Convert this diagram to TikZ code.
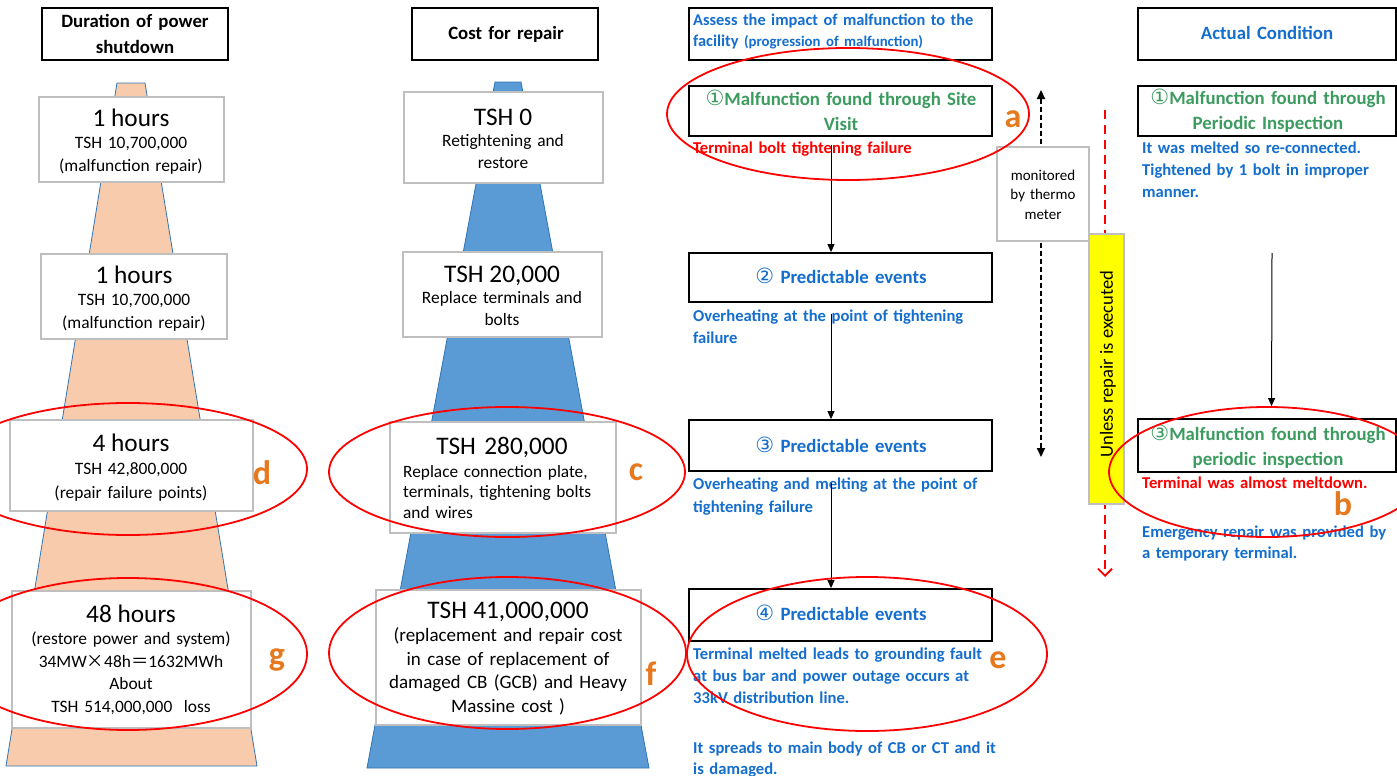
\documentclass[tikz,border=0pt]{standalone}
\usepackage{fontspec}
\setmainfont{Carlito}
\newfontfamily\circfont[BoldFont=DejaVu Sans]{DejaVu Sans}
\newfontfamily\cjkfont{Noto Sans CJK JP}
\usetikzlibrary{shapes.geometric,arrows.meta}

\definecolor{txtblue}{RGB}{20,110,205}
\definecolor{txtgreen}{RGB}{60,155,95}
\definecolor{txtred}{RGB}{255,0,0}
\definecolor{lblorange}{RGB}{230,120,30}
\definecolor{peach}{RGB}{248,203,173}
\definecolor{conefill}{RGB}{91,155,213}
\definecolor{coneedge}{RGB}{46,117,182}
\definecolor{boxgray}{RGB}{191,191,191}
\definecolor{marker}{RGB}{255,255,0}

\newcommand{\fsz}[2]{\fontsize{#1}{#2}\selectfont}
\newcommand{\circnum}[1]{{\circfont\fsz{21}{25}#1}}
\newcommand{\bigsz}{\fsz{25.3}{23}}

\tikzset{
  graybox/.style={draw=boxgray, line width=1.1pt, fill=white, inner sep=0pt},
  blackbox/.style={draw=black, line width=1.8pt, fill=white, inner sep=0pt},
  boxtext/.style={anchor=base, inner sep=0pt, align=center, text width=#1},
  leftpara/.style={anchor=base west, inner sep=0pt, align=left, text width=#1},
  bodyfont/.style={font=\bfseries\fsz{16.6}{22}},
  headfont/.style={font=\bfseries\fsz{18.8}{25}},
  cellfont/.style={font=\fsz{17.4}{22.5}},
  ring/.style={ellipse, draw=red, line width=1.8pt, inner sep=0pt},
  tag/.style={anchor=base, inner sep=0pt, text=lblorange, font=\bfseries\fsz{34}{34}},
  flow/.style={draw=black, line width=1pt, -{Triangle[length=8pt,width=7pt]}},
}

\begin{document}
\begin{tikzpicture}[x=1pt,y=-1pt]
\useasboundingbox (0,0) rectangle (1397,776);
\fill[white] (0,0) rectangle (1397,776);

% ---- the two cones behind the value boxes
\draw[fill=peach, draw=coneedge, line width=0.8pt]
  (117,83) -- (145,83) -- (257,766) -- (6,766) -- cycle;
\draw[fill=conefill, draw=coneedge, line width=0.8pt]
  (495,82) -- (521,82) -- (649,768) -- (367,768) -- cycle;

% ---- column 1: duration of power shutdown
\node[blackbox, minimum width=186pt, minimum height=52pt] (h1) at (135,34) {};
\node[boxtext=184pt, headfont] (h1t) at (135,28) {Duration of power\\shutdown};

\node[graybox, minimum width=185pt, minimum height=85pt] (d1) at (131.5,139.5) {};
\node[boxtext=182pt, cellfont] (d1t) at (131,126)
  {{\bigsz 1 hours}\\TSH 10,700,000\\(malfunction repair)};

\node[graybox, minimum width=186pt, minimum height=85pt] (d2) at (134,296.5) {};
\node[boxtext=182pt, cellfont] (d2t) at (134,283)
  {{\bigsz 1 hours}\\TSH 10,700,000\\(malfunction repair)};

\node[graybox, minimum width=243pt, minimum height=91pt] (d3) at (131.5,465.5) {};
\node[boxtext=236pt, font=\fsz{17.4}{23.5}] (d3t) at (131,451)
  {{\bigsz 4 hours}\\TSH 42,800,000\\(repair failure points)};

\node[graybox, minimum width=239pt, minimum height=137pt] (d4) at (131.5,659.5) {};
\node[boxtext=236pt, cellfont] (d4t) at (131,622)
  {{\bigsz 48 hours}\\(restore power and system)\\
   34MW{\cjkfont ×}48h{\cjkfont ＝}1632MWh\\About\\TSH 514,000,000\ \ loss};

% ---- column 2: cost for repair
\node[blackbox, minimum width=186pt, minimum height=52pt] (h2) at (505,34) {};
\node[boxtext=184pt, headfont] (h2t) at (506,40) {Cost for repair};

\node[graybox, minimum width=199pt, minimum height=91pt] (c1) at (503.5,137.5) {};
\node[boxtext=196pt, font=\fsz{17.4}{21.5}] (c1t) at (503,125)
  {{\bigsz TSH 0}\\Retightening and\\restore};

\node[graybox, minimum width=199pt, minimum height=85pt] (c2) at (502.5,294.5) {};
\node[boxtext=196pt, font=\fsz{17.4}{21.5}] (c2t) at (502,282)
  {{\bigsz TSH 20,000}\\Replace terminals and\\bolts};

\node[graybox, minimum width=226pt, minimum height=111pt] (c3) at (503,477.5) {};
\node[boxtext=210pt, font=\bigsz] (c3t) at (502,454) {TSH 280,000};
\node[leftpara=210pt, font=\fsz{17.3}{20.5}] (c3b) at (403,477)
  {Replace connection plate,\\terminals, tightening bolts\\and wires};

\node[graybox, minimum width=265pt, minimum height=135pt] (c4) at (508.5,657.5) {};
\node[boxtext=262pt, font=\fsz{19}{23.5}] (c4t) at (508,618)
  {{\bigsz TSH 41,000,000}\\(replacement and repair cost\\in case of replacement of\\
   damaged CB (GCB) and Heavy\\Massine cost )};

% ---- column 3: progression of malfunction
\node[blackbox, minimum width=303pt, minimum height=52pt] (p0) at (840.5,34) {};
\node[leftpara=298pt, text=txtblue, font=\bfseries\fsz{16.4}{21}] (p0t) at (693,26)
  {Assess the impact of malfunction to the\\facility {\fsz{14.8}{21}(progression of malfunction)}};

\node[blackbox, minimum width=303pt, minimum height=50pt] (p1) at (840.5,111) {};
\node[boxtext=300pt, text=txtgreen, headfont] (p1t) at (841,105)
  {\circnum{①}Malfunction found through Site\\Visit};
\node[leftpara=320pt, text=txtred, bodyfont] (p1n) at (693,153)
  {Terminal bolt tightening failure};

\node[blackbox, minimum width=303pt, minimum height=49pt] (p2) at (840.5,277.5) {};
\node[boxtext=300pt, text=txtblue, headfont] (p2t) at (841,283)
  {\circnum{②} Predictable events};
\node[leftpara=320pt, text=txtblue, bodyfont] (p2n) at (693,321)
  {Overheating at the point of tightening\\failure};

\node[blackbox, minimum width=303pt, minimum height=51pt] (p3) at (840.5,445.5) {};
\node[boxtext=300pt, text=txtblue, headfont] (p3t) at (841,452)
  {\circnum{③} Predictable events};
\node[leftpara=320pt, text=txtblue, font=\bfseries\fsz{16.6}{23}] (p3n) at (693,489)
  {Overheating and melting at the point of\\tightening failure};

\node[blackbox, minimum width=303pt, minimum height=52pt] (p4) at (840.5,615) {};
\node[boxtext=300pt, text=txtblue, headfont] (p4t) at (841,620)
  {\circnum{④} Predictable events};
\node[leftpara=320pt, text=txtblue, bodyfont] (p4n) at (693,659)
  {Terminal melted leads to grounding fault\\at bus bar and power outage occurs at\\33kV distribution line.};
\node[leftpara=320pt, text=txtblue, font=\bfseries\fsz{16.6}{21}] (p4m) at (693,753)
  {It spreads to main body of CB or CT and it\\is damaged.};

\draw[flow] ([xshift=-9.5pt,yshift=-8pt]p1.south) -- ([xshift=-9.5pt]p2.north);
\draw[flow] ([xshift=-9.5pt,yshift=-11pt]p2.south) -- ([xshift=-9.5pt]p3.north);
\draw[flow] ([xshift=-9.5pt,yshift=-11pt]p3.south) -- ([xshift=-9.5pt]p4.north);

% ---- monitoring span and repair warning
\coordinate (mtop) at (1041,90);
\coordinate (mbot) at (1041,457);
\draw[line width=1.8pt, dash pattern=on 5pt off 3pt,
      {Triangle[length=9pt,width=8pt]}-{Triangle[length=9pt,width=8pt]}] (mtop) -- (mbot);
\node[graybox, minimum width=92pt, minimum height=94pt] (mon) at (1043,194) {};
\node[boxtext=90pt, font=\fsz{15}{19.5}] (mont) at (1043,180) {monitored\\by thermo\\meter};

\coordinate (rtop) at (1105,110);
\coordinate (rbot) at (1105,577);
\draw[draw=red, line width=1.8pt, dash pattern=on 9pt off 6pt,
      -{Straight Barb[length=7pt,width=14pt]}] (rtop) -- (rbot);
\node[draw=boxgray, line width=1.1pt, fill=marker, inner sep=0pt,
      minimum width=35pt, minimum height=270pt] (warn) at (1106.5,369) {};
\node[rotate=90, inner sep=0pt, font=\fsz{18.6}{20}] (warnt) at (1108,364) {Unless repair is executed};

% ---- column 4: actual condition
\node[blackbox, minimum width=258pt, minimum height=52pt] (q0) at (1267,34) {};
\node[boxtext=250pt, text=txtblue, headfont] (q0t) at (1267,40) {Actual Condition};

\node[blackbox, minimum width=258pt, minimum height=50pt] (q1) at (1267,111) {};
\node[boxtext=258pt, text=txtgreen, headfont] (q1t) at (1268,104)
  {\circnum{①}Malfunction found through\\Periodic Inspection};
\node[leftpara=252pt, text=txtblue, bodyfont] (q1n) at (1142,153)
  {It was melted so re-connected.\\Tightened by 1 bolt in improper\\manner.};

\node[blackbox, minimum width=258pt, minimum height=53pt] (q3) at (1267,445.5) {};
\node[boxtext=258pt, text=txtgreen, headfont] (q3t) at (1268,440)
  {\circnum{③}Malfunction found through\\periodic inspection};
\node[leftpara=252pt, text=txtred, bodyfont] (q3n) at (1142,488)
  {Terminal was almost meltdown.};
\node[leftpara=252pt, text=txtblue, font=\bfseries\fsz{16.6}{21}] (q3m) at (1142,537)
  {Emergency repair was provided by\\a temporary terminal.};

\coordinate (qstart) at (1272,253);
\draw[flow, shorten >=12pt] (qstart) -- ([xshift=4.5pt]q3.north);

% ---- highlighted items
\node[ring, minimum width=362pt, minimum height=132pt] (ra) at (848,114) {};
\node[ring, minimum width=316pt, minimum height=130pt] (rb) at (1267,472) {};
\node[ring, minimum width=356pt, minimum height=130pt] (rc) at (507,472) {};
\node[ring, minimum width=358pt, minimum height=132pt] (rd) at (128,469) {};
\node[ring, minimum width=360pt, minimum height=154pt] (re) at (867,654) {};
\node[ring, minimum width=357pt, minimum height=152pt] (rf) at (507.5,653) {};
\node[ring, minimum width=358pt, minimum height=152pt] (rg) at (128,654) {};

\node[tag] (la) at (1013,127) {a};
\node[tag] (lb) at (1343,515) {b};
\node[tag] (lc) at (636,480) {c};
\node[tag] (ld) at (262,484) {d};
\node[tag] (le) at (998,668) {e};
\node[tag] (lf) at (651,685) {f};
\node[tag] (lg) at (277,665) {g};
\end{tikzpicture}
\end{document}
